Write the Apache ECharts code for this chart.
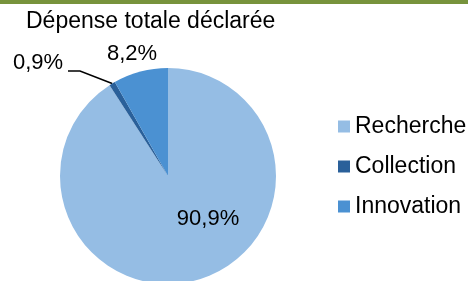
<!DOCTYPE html>
<html>
<head>
<meta charset="utf-8">
<script src="https://cdn.jsdelivr.net/npm/echarts@6/dist/echarts.min.js"></script>
<style>
html,body{margin:0;padding:0;background:#fff;}
#chart{width:468px;height:281px;}
</style>
</head>
<body>
<div id="chart"></div>
<script>
const titleText = 'Dépense totale déclarée';
const categories = ['Recherche', 'Collection', 'Innovation'];
const values = [90.9, 0.9, 8.2];
const colors = ['#95BDE4', '#2A609A', '#4B91D2'];

const FONT = 'Liberation Sans, Arial, sans-serif';
const chart = echarts.init(document.getElementById('chart'), null, {renderer: 'canvas'});

function fmt(v) { return v.toFixed(1).replace('.', ',') + '%'; }

const labelPos = [
  {x: 208, y: 219},
  {x: 38, y: 63},
  {x: 132, y: 54}
];

chart.setOption({
  animation: false,
  backgroundColor: '#ffffff',
  graphic: [{
    type: 'rect', left: 0, top: 0,
    shape: {x: 0, y: 0, width: 468, height: 4},
    style: {fill: '#77933C'}, silent: true
  }],
  title: {
    text: titleText, left: 26, top: 10, padding: 0,
    textStyle: {fontFamily: FONT, fontSize: 23, fontWeight: 'normal', color: '#000'}
  },
  legend: {
    orient: 'vertical', left: 338, top: 115, padding: 0,
    itemWidth: 12, itemHeight: 12, itemGap: 17, icon: 'rect',
    data: categories,
    textStyle: {fontFamily: FONT, fontSize: 23, color: '#000'}
  },
  series: [{
    type: 'pie',
    center: [168, 176],
    radius: 108,
    startAngle: 90,
    clockwise: true,
    avoidLabelOverlap: false,
    itemStyle: {borderWidth: 0},
    emphasis: {disabled: true},
    label: {
      show: true, position: 'outside',
      fontFamily: FONT, fontSize: 22, color: '#000',
      formatter: p => fmt(p.value)
    },
    labelLine: {show: false, lineStyle: {color: '#000', width: 1.5}},
    labelLayout: function (params) {
      const i = params.dataIndex;
      const out = {x: labelPos[i].x, y: labelPos[i].y, align: 'center', verticalAlign: 'middle'};
      if (i === 1 && params.labelLinePoints) {
        const p0 = params.labelLinePoints[0];
        out.labelLinePoints = [p0, [80, 71], [68, 71]];
      }
      return out;
    },
    data: categories.map((c, i) => ({
      name: c, value: values[i],
      itemStyle: {color: colors[i]},
      label: i === 0 ? {position: 'inside'} : {},
      labelLine: i === 1 ? {show: true, length: 15, length2: 30} : {show: false}
    }))
  }]
});
</script>
</body>
</html>
